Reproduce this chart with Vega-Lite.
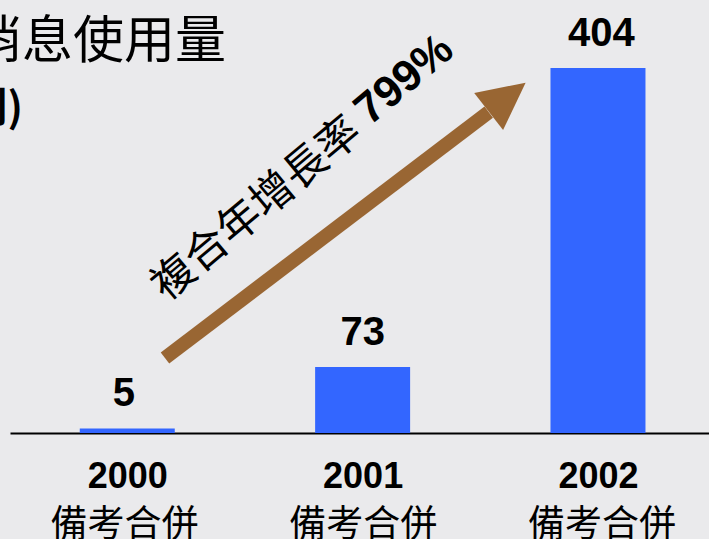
{
  "$schema": "https://vega.github.io/schema/vega-lite/v6.json",
  "autosize": "none",
  "width": 699,
  "height": 365,
  "padding": {"left": 10, "top": 68, "right": 0, "bottom": 106},
  "background": "#eaeaec",
  "title": {
    "text": "行動消息使用量",
    "subtitle": "(百萬則)",
    "anchor": "start",
    "frame": "group",
    "orient": "top",
    "dx": -141,
    "offset": -117,
    "font": "Noto Sans CJK TC",
    "fontSize": 51,
    "fontWeight": "normal",
    "color": "#000000",
    "subtitleFont": "Noto Sans CJK TC",
    "subtitleFontSize": 41,
    "subtitleFontWeight": "bold",
    "subtitleColor": "#000000",
    "subtitlePadding": 21
  },
  "datasets": {
    "bars": [
      {"year": 2000, "value": 5},
      {"year": 2001, "value": 73},
      {"year": 2002, "value": 404}
    ]
  },
  "layer": [
    {
      "data": {"name": "bars"},
      "mark": {"type": "bar", "size": 95, "color": "#3366FF"},
      "encoding": {
        "x": {
          "field": "year", "type": "quantitative",
          "scale": {"domain": [1999.523, 2002.4505], "nice": false, "zero": false},
          "axis": {
            "values": [2000, 2001, 2002], "format": "d", "title": null,
            "orient": "bottom", "grid": false, "ticks": false,
            "domain": true, "domainColor": "#000000", "domainWidth": 2,
            "labelFont": "Liberation Sans", "labelFontWeight": "bold",
            "labelFontSize": 36, "labelColor": "#000000", "labelPadding": 26,
            "labelFlush": false, "labelOverlap": false
          }
        },
        "y": {
          "field": "value", "type": "quantitative",
          "scale": {"domain": [0, 404], "nice": false},
          "axis": null
        }
      }
    },
    {
      "data": {"name": "bars"},
      "mark": {"type": "text", "baseline": "alphabetic", "dy": -22, "font": "Liberation Sans", "fontWeight": "bold", "fontSize": 40, "color": "#000000"},
      "encoding": {
        "x": {"field": "year", "type": "quantitative", "scale": {"domain": [1999.523, 2002.4505], "nice": false, "zero": false}, "axis": null},
        "y": {"field": "value", "type": "quantitative"},
        "text": {"field": "value", "type": "quantitative"}
      }
    },
    {
      "data": {"values": [{"x": 2000.172, "y": 83, "x2": 2001.528, "y2": 355.2}]},
      "mark": {"type": "rule", "strokeWidth": 14, "color": "#996633", "strokeCap": "butt"},
      "encoding": {
        "x": {"field": "x", "type": "quantitative", "scale": {"domain": [1999.523, 2002.4505], "nice": false, "zero": false}, "axis": null},
        "y": {"field": "y", "type": "quantitative"},
        "x2": {"field": "x2"},
        "y2": {"field": "y2"}
      }
    },
    {
      "data": {"values": [{"x": 2001.605, "y": 371.8}]},
      "mark": {"type": "point", "shape": "M0,-1L1,1L-1,1Z", "size": 2200, "angle": 52, "filled": true, "opacity": 1, "color": "#996633"},
      "encoding": {
        "x": {"field": "x", "type": "quantitative", "scale": {"domain": [1999.523, 2002.4505], "nice": false, "zero": false}, "axis": null},
        "y": {"field": "y", "type": "quantitative"}
      }
    },
    {
      "data": {"values": [{"label": "複合年增長率", "x": 2000.557, "y": 247.9}]},
      "mark": {"type": "text", "angle": -40, "align": "center", "baseline": "middle", "font": "Noto Sans CJK TC", "fontSize": 43, "color": "#000000"},
      "encoding": {
        "x": {"field": "x", "type": "quantitative", "scale": {"domain": [1999.523, 2002.4505], "nice": false, "zero": false}, "axis": null},
        "y": {"field": "y", "type": "quantitative"},
        "text": {"field": "label"}
      }
    },
    {
      "data": {"values": [{"label": "799%", "x": 2001.175, "y": 390.7}]},
      "mark": {"type": "text", "angle": -40, "align": "center", "baseline": "middle", "font": "Liberation Sans", "fontWeight": "bold", "fontSize": 44, "color": "#000000"},
      "encoding": {
        "x": {"field": "x", "type": "quantitative", "scale": {"domain": [1999.523, 2002.4505], "nice": false, "zero": false}, "axis": null},
        "y": {"field": "y", "type": "quantitative"},
        "text": {"field": "label"}
      }
    },
    {
      "data": {"name": "bars"},
      "mark": {"type": "point", "opacity": 0},
      "encoding": {
        "x": {
          "field": "year", "type": "quantitative",
          "scale": {"domain": [1999.523, 2002.4505], "nice": false, "zero": false},
          "axis": {
            "values": [2000, 2001, 2002], "labelExpr": "'備考合併'", "title": null,
            "orient": "bottom", "grid": false, "ticks": false, "domain": false,
            "labelFont": "Noto Sans CJK TC", "labelFontSize": 37,
            "labelColor": "#000000", "labelPadding": 74,
            "labelFlush": false, "labelOverlap": false
          }
        },
        "y": {"field": "value", "type": "quantitative"}
      }
    }
  ],
  "resolve": {"scale": {"x": "independent"}, "axis": {"x": "independent"}},
  "config": {"view": {"stroke": null}}
}
